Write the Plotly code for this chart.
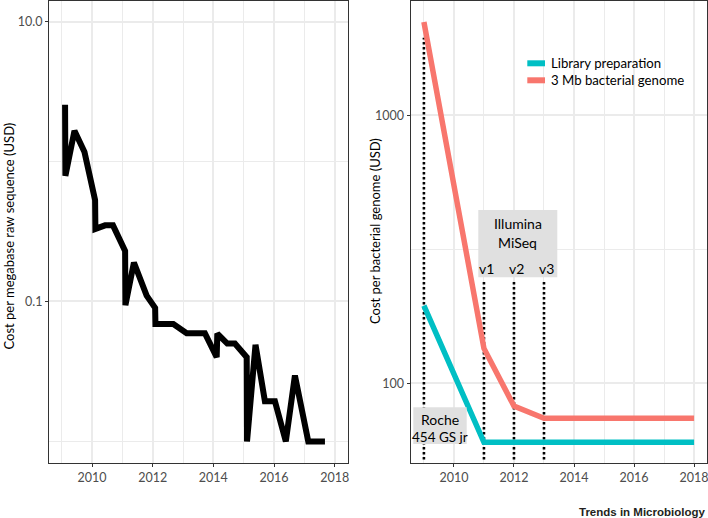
import plotly.graph_objects as go

# ---------------- data ----------------
years_mb = [2009.11, 2009.12, 2009.42, 2009.75, 2010.10, 2010.11, 2010.43, 2010.69,
            2011.09, 2011.10, 2011.38, 2011.69, 2011.80, 2012.08, 2012.09, 2012.68,
            2013.12, 2013.72, 2014.11, 2014.13, 2014.46, 2014.71, 2015.10, 2015.11,
            2015.39, 2015.70, 2016.03, 2016.39, 2016.69, 2017.13, 2017.68]
cost_per_mb = [2.55, 0.79, 1.66, 1.17, 0.53, 0.33, 0.35, 0.35,
               0.23, 0.094, 0.19, 0.12, 0.11, 0.090, 0.069, 0.069,
               0.0594, 0.0594, 0.040, 0.059, 0.050, 0.050, 0.040, 0.010,
               0.049, 0.0194, 0.0194, 0.010, 0.0296, 0.010, 0.010]

years_genome = [2009, 2011, 2012, 2013, 2018]
library_prep = [195, 60.3, 60.3, 60.3, 60.3]
genome_3mb = [2230, 135, 82.3, 74.1, 74.1]

platform_years = [2009, 2011, 2012, 2013]
platform_top = [1950, 240, 240, 240]
platform_bottom = 52
version_labels = ["v1", "v2", "v3"]

left_ticks = [0.1, 10]
left_ticktext = ["0.1", "10.0"]
left_minor = [0.01, 1]
right_ticks = [100, 1000]
right_ticktext = ["100", "1000"]
right_minor = [316.2]
x_ticks = [2010, 2012, 2014, 2016, 2018]

# ---------------- layout helpers ----------------
W, H = 708, 518
def px(x):
    return x / W
def py(y):
    return 1 - y / H

TEAL = "#00BFC4"
RED = "#F8766D"
GRID = "#EBEBEB"
AX = "#333333"
TICKC = "#4D4D4D"
FONT = "Lato, Open Sans, sans-serif"

fig = go.Figure()

fig.add_trace(go.Scatter(x=years_mb, y=cost_per_mb, mode="lines",
                         line=dict(color="black", width=6),
                         xaxis="x", yaxis="y", showlegend=False))

for yr, top in zip(platform_years, platform_top):
    fig.add_trace(go.Scatter(x=[yr, yr], y=[platform_bottom, top], mode="lines",
                             line=dict(color="black", width=2.6, dash="2.6px,2.4px"),
                             xaxis="x2", yaxis="y2", showlegend=False))

fig.add_trace(go.Scatter(x=years_genome, y=library_prep, mode="lines",
                         line=dict(color=TEAL, width=5.5), name="Library preparation",
                         xaxis="x2", yaxis="y2", showlegend=False))
fig.add_trace(go.Scatter(x=years_genome, y=genome_3mb, mode="lines",
                         line=dict(color=RED, width=5.5), name="3 Mb bacterial genome",
                         xaxis="x2", yaxis="y2", showlegend=False))

def xaxis(domain, rng, anchor):
    return dict(domain=domain, range=rng, anchor=anchor, type="linear",
                tickvals=x_ticks, ticktext=[str(t) for t in x_ticks],
                showgrid=True, gridcolor=GRID, gridwidth=1.6,
                minor=dict(dtick=1, tick0=2009, showgrid=True, gridcolor=GRID, gridwidth=1.1, ticks=""),
                showline=True, linecolor=AX, linewidth=1.2, mirror=True,
                ticks="outside", ticklen=3, tickwidth=1.1, tickcolor=AX,
                tickfont=dict(family=FONT, size=12.5, color=TICKC),
                ticklabeloverflow="allow",
                zeroline=False, automargin=False, fixedrange=True)

def yaxis(domain, rng, anchor, tv, tt, minor):
    return dict(domain=domain, range=rng, anchor=anchor, type="log",
                tickvals=tv, ticktext=tt,
                showgrid=True, gridcolor=GRID, gridwidth=1.6,
                minor=dict(tickmode="array", tickvals=minor, showgrid=True,
                           gridcolor=GRID, gridwidth=1.1, ticks=""),
                showline=True, linecolor=AX, linewidth=1.2, mirror=True,
                ticks="outside", ticklen=3, tickwidth=1.1, tickcolor=AX,
                tickfont=dict(family=FONT, size=12.5, color=TICKC),
                ticklabeloverflow="allow",
                zeroline=False, automargin=False, fixedrange=True)

ydom = [py(462.7), py(0.6)]
fig.update_layout(
    width=W, height=H,
    margin=dict(l=0, r=0, t=0, b=0, pad=0),
    paper_bgcolor="white", plot_bgcolor="white",
    font=dict(family=FONT, color="black"),
    xaxis=xaxis([px(49), px(348)], [2008.58, 2018.44], "y"),
    yaxis=yaxis(ydom, [-2.152, 1.15], "x", left_ticks, left_ticktext, left_minor),
    xaxis2=xaxis([px(410.7), px(706.7)], [2008.56, 2018.42], "y2"),
    yaxis2=yaxis(ydom, [1.704, 3.4286], "x2", right_ticks, right_ticktext, right_minor),
    showlegend=False,
)

shapes = []
# legend background (hides grid)
shapes.append(dict(type="rect", xref="paper", yref="paper", x0=px(519), x1=px(702),
                   y0=py(102), y1=py(43), fillcolor="white", line=dict(width=0), layer="between"))
# legend keys
shapes.append(dict(type="rect", xref="paper", yref="paper", x0=px(527.3), x1=px(545),
                   y0=py(66.3), y1=py(60.3), fillcolor=TEAL, line=dict(width=0), layer="above"))
shapes.append(dict(type="rect", xref="paper", yref="paper", x0=px(527.3), x1=px(545),
                   y0=py(83.3), y1=py(77.3), fillcolor=RED, line=dict(width=0), layer="above"))
# label boxes
shapes.append(dict(type="rect", xref="paper", yref="paper", x0=px(478.3), x1=px(557.3),
                   y0=py(277.3), y1=py(210), fillcolor="#E0E0E0", line=dict(width=0), layer="above"))
shapes.append(dict(type="rect", xref="paper", yref="paper", x0=px(413.3), x1=px(466.7),
                   y0=py(444), y1=py(407.3), fillcolor="#E0E0E0", line=dict(width=0), layer="above"))
fig.update_layout(shapes=shapes)

ann = []
ann.append(dict(text="Library preparation", xref="paper", yref="paper", x=px(549), y=py(63.3),
                xanchor="left", yanchor="middle", showarrow=False, font=dict(size=13.2, color="black")))
ann.append(dict(text="3 Mb bacterial genome", xref="paper", yref="paper", x=px(549), y=py(80.3),
                xanchor="left", yanchor="middle", showarrow=False, font=dict(size=13.2, color="black")))
ann.append(dict(text="Illumina", xref="paper", yref="paper", x=px(517.8), y=py(223.3),
                xanchor="center", yanchor="middle", showarrow=False, font=dict(size=14, color="black")))
ann.append(dict(text="MiSeq", xref="paper", yref="paper", x=px(517.8), y=py(242.7),
                xanchor="center", yanchor="middle", showarrow=False, font=dict(size=14, color="black")))
for yr, lab in zip(platform_years[1:], version_labels):
    ann.append(dict(text=lab, xref="x2", yref="paper", x=yr + 0.08, y=py(268.3),
                    xanchor="center", yanchor="middle", showarrow=False, font=dict(size=14, color="black")))
ann.append(dict(text="Roche", xref="paper", yref="paper", x=px(440), y=py(419.3),
                xanchor="center", yanchor="middle", showarrow=False, font=dict(size=14, color="black")))
ann.append(dict(text="454 GS jr", xref="paper", yref="paper", x=px(440), y=py(437.3),
                xanchor="center", yanchor="middle", showarrow=False, font=dict(size=13.5, color="black")))
# axis titles
ann.append(dict(text="Cost per megabase raw sequence (USD)", xref="paper", yref="paper",
                x=px(8.5), y=py(236), textangle=-90, xanchor="center", yanchor="middle",
                showarrow=False, font=dict(size=13, color="black")))
ann.append(dict(text="Cost per bacterial genome (USD)", xref="paper", yref="paper",
                x=px(375), y=py(231), textangle=-90, xanchor="center", yanchor="middle",
                showarrow=False, font=dict(size=13, color="black")))
ann.append(dict(text="<b>Trends in Microbiology</b>", xref="paper", yref="paper",
                x=px(706.5), y=py(511.5), xanchor="right", yanchor="middle", showarrow=False,
                font=dict(family="Liberation Sans, Arial, sans-serif", size=11.5, color="#231F20")))
fig.update_layout(annotations=ann)

fig.write_html("out.html", config={"displayModeBar": False},
               post_script="document.body.style.margin='0';document.body.style.overflow='hidden';")
